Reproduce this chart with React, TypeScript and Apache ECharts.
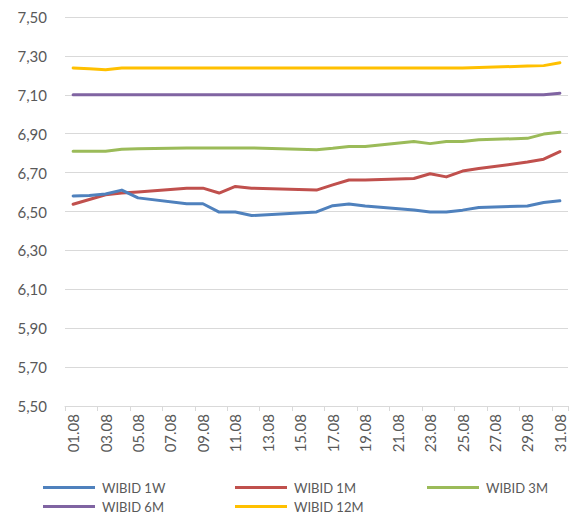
import React, { useEffect, useRef } from "react";
import * as echarts from "echarts";

const dates = [
  "01.08", "02.08", "03.08", "04.08", "05.08", "06.08", "07.08", "08.08", "09.08", "10.08",
  "11.08", "12.08", "13.08", "14.08", "15.08", "16.08", "17.08", "18.08", "19.08", "20.08",
  "21.08", "22.08", "23.08", "24.08", "25.08", "26.08", "27.08", "28.08", "29.08", "30.08", "31.08",
];

const wibid1W = [6.58, 6.582, 6.59, 6.61, 6.57, null, null, 6.54, 6.54, 6.497, 6.497, 6.479, null, null, null, 6.498, 6.53, 6.539, 6.528, null, null, 6.508, 6.497, 6.497, 6.507, 6.521, null, null, 6.528, 6.546, 6.555];
const wibid1M = [6.537, 6.562, 6.586, 6.595, 6.6, null, null, 6.62, 6.62, 6.595, 6.629, 6.62, null, null, null, 6.61, 6.637, 6.662, 6.662, null, null, 6.67, 6.694, 6.678, 6.708, 6.721, null, null, 6.754, 6.769, 6.808];
const wibid3M = [6.81, 6.81, 6.81, 6.82, 6.822, null, null, 6.827, 6.827, 6.827, 6.827, 6.827, null, null, null, 6.818, 6.825, 6.834, 6.834, null, null, 6.86, 6.849, 6.86, 6.86, 6.869, null, null, 6.876, 6.898, 6.908];
const wibid6M = [7.1, 7.1, 7.1, 7.1, 7.1, null, null, 7.1, 7.1, 7.1, 7.1, 7.1, null, null, null, 7.1, 7.1, 7.1, 7.1, null, null, 7.1, 7.1, 7.1, 7.1, 7.1, null, null, 7.1, 7.1, 7.108];
const wibid12M = [7.238, 7.234, 7.229, 7.238, 7.238, null, null, 7.238, 7.238, 7.238, 7.238, 7.238, null, null, null, 7.238, 7.238, 7.238, 7.238, null, null, 7.238, 7.238, 7.238, 7.238, 7.24, null, null, 7.248, 7.25, 7.265];

const seriesNames = ["WIBID 1W", "WIBID 1M", "WIBID 3M", "WIBID 6M", "WIBID 12M"];
const seriesData = [wibid1W, wibid1M, wibid3M, wibid6M, wibid12M];
const colors = ["#4F81BD", "#C0504D", "#9BBB59", "#8064A2", "#FFC000"];

const yMin = 5.5;
const yMax = 7.5;
const yStep = 0.2;

const FONT = "Lato, 'Open Sans', sans-serif";
const TEXT_COLOR = "#595959";

export default function App() {
  const ref = useRef<HTMLDivElement>(null);

  useEffect(() => {
    if (!ref.current) return;
    const chart = echarts.init(ref.current, null, { renderer: "svg" });

    const legendPos = [
      { left: 43, top: 481 },
      { left: 235, top: 481 },
      { left: 427, top: 481 },
      { left: 43, top: 500 },
      { left: 235, top: 500 },
    ];

    chart.setOption({
      animation: false,
      backgroundColor: "#ffffff",
      grid: { left: 65, right: 10, top: 17, bottom: 109, containLabel: false },
      legend: seriesNames.map((n, i) => ({
        data: [n],
        left: legendPos[i].left,
        top: legendPos[i].top,
        padding: 0,
        icon: "rect",
        itemWidth: 52,
        itemHeight: 3,
        textStyle: { color: TEXT_COLOR, fontSize: 13, fontFamily: FONT, padding: [0, 0, 0, 2] },
        selectedMode: false,
      })),
      xAxis: {
        type: "category",
        data: dates,
        boundaryGap: true,
        axisLine: { show: true, lineStyle: { color: "#D9D9D9", width: 1 } },
        axisTick: { show: true, interval: 1, length: 5, lineStyle: { color: "#D9D9D9" } },
        axisLabel: {
          interval: 1,
          rotate: 90,
          margin: 8,
          color: TEXT_COLOR,
          fontSize: 15,
          fontFamily: FONT,
        },
        splitLine: { show: false },
      },
      yAxis: {
        type: "value",
        min: 0,
        max: +(yMax - yMin).toFixed(2),
        interval: yStep,
        axisLine: { show: false },
        axisTick: { show: false },
        axisLabel: {
          margin: 18,
          color: TEXT_COLOR,
          fontSize: 15,
          fontFamily: FONT,
          formatter: (v: number) => (v + yMin).toFixed(2).replace(".", ","),
        },
        splitLine: { show: true, lineStyle: { color: "#D9D9D9", width: 1 } },
      },
      series: seriesNames.map((n, i) => ({
        name: n,
        type: "line",
        data: seriesData[i].map((v) => (v == null ? null : +(v - yMin).toFixed(4))),
        connectNulls: true,
        showSymbol: false,
        symbol: "none",
        lineStyle: { color: colors[i], width: 3, cap: "round", join: "round" },
        itemStyle: { color: colors[i] },
        z: 2 + (seriesNames.length - i),
      })),
    });

    return () => chart.dispose();
  }, []);

  return (
    <div
      ref={ref}
      style={{ position: "fixed", left: 0, top: 0, width: 578, height: 515, background: "#fff" }}
    />
  );
}
